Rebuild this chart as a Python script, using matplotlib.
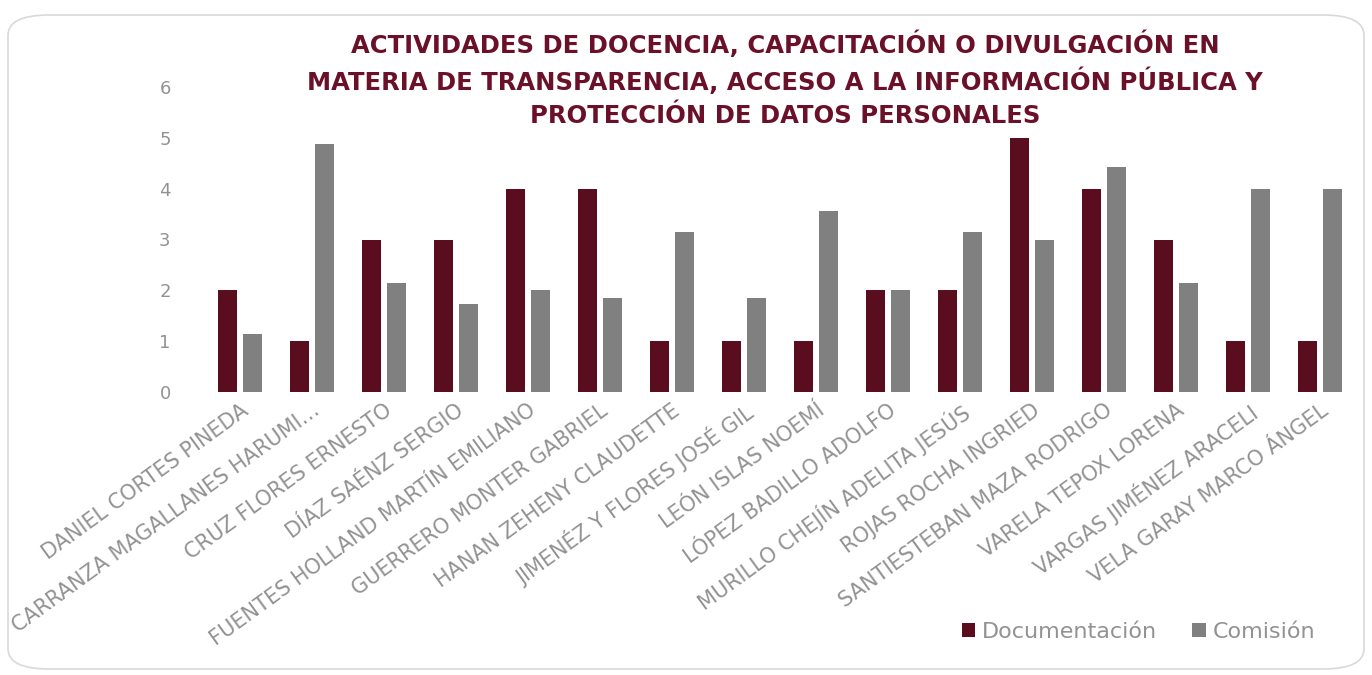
import matplotlib.pyplot as plt  # 그래프
import numpy as np
from matplotlib.patches import FancyBboxPatch

# datos del gráfico
nombres = ['DANIEL CORTES PINEDA', 'CARRANZA MAGALLANES HARUMI…', 'CRUZ FLORES ERNESTO',
           'DÍAZ SAÉNZ SERGIO', 'FUENTES HOLLAND MARTÍN EMILIANO', 'GUERRERO MONTER GABRIEL',
           'HANAN ZEHENY CLAUDETTE', 'JIMENÉZ Y FLORES JOSÉ GIL', 'LEÓN ISLAS NOEMÍ',
           'LÓPEZ BADILLO ADOLFO', 'MURILLO CHEJÍN ADELITA JESÚS', 'ROJAS ROCHA INGRIED',
           'SANTIESTEBAN MAZA RODRIGO', 'VARELA TEPOX LORENA', 'VARGAS JIMÉNEZ ARACELI',
           'VELA GARAY MARCO ÁNGEL']
documentacion = [2, 1, 3, 3, 4, 4, 1, 1, 1, 2, 2, 5, 4, 3, 1, 1]
comision = [1.15, 4.87, 2.15, 1.73, 2.0, 1.85, 3.15, 1.85, 3.57, 2.0, 3.15, 3.0, 4.42, 2.15, 4.0, 4.0]
yticks = [0, 1, 2, 3, 4, 5, 6]

titulo = ('ACTIVIDADES DE DOCENCIA, CAPACITACIÓN O DIVULGACIÓN EN\n'
          'MATERIA DE TRANSPARENCIA, ACCESO A LA INFORMACIÓN PÚBLICA Y\n'
          'PROTECCIÓN DE DATOS PERSONALES')

color_doc = '#5B0D20'
color_com = '#808080'
color_txt = '#929292'

fig = plt.figure(figsize=(13.72, 6.75), dpi=100)

# marco redondeado (detrás de todo)
marco = FancyBboxPatch((8 / 1372, 6 / 675), 1356 / 1372, 654 / 675,
                       boxstyle='round,pad=0,rounding_size=0.03',
                       transform=fig.transFigure, facecolor='white',
                       edgecolor='#D9D9D9', linewidth=1.2, zorder=-5)
fig.patches.append(marco)

ax = fig.add_axes([204 / 1372, 1 - 392 / 675, 1152 / 1372, 305 / 675])
ax.patch.set_alpha(0)

x = np.arange(len(nombres))
ancho = 0.26
ax.bar(x - 0.17, documentacion, ancho, color=color_doc, label='Documentación')
ax.bar(x + 0.17, comision, ancho, color=color_com, label='Comisión')

ax.set_xlim(-0.5, len(nombres) - 0.5)
ax.set_ylim(0, 6)
ax.set_yticks(yticks)
ax.set_yticklabels([str(v) for v in yticks], color=color_txt, fontsize=13)
ax.set_xticks(x)
ax.set_xticklabels(nombres, rotation=36, ha='right', rotation_mode='anchor',
                   color=color_txt, fontsize=15)
ax.tick_params(axis='both', length=0)
ax.tick_params(axis='y', pad=24)
ax.tick_params(axis='x', pad=6)
for s in ax.spines.values():
    s.set_visible(False)

fig.text(785 / 1372, 1 - 79 / 675, titulo, ha='center', va='center',
         fontsize=17.5, fontweight='bold', color='#6A1028', linespacing=1.45)

fig.legend(loc='center right', bbox_to_anchor=(1335 / 1372, 1 - 632 / 675),
           ncol=2, frameon=False, fontsize=16, labelcolor=color_txt,
           handlelength=0.6, handleheight=0.6, handletextpad=0.3, columnspacing=1.6)

plt.savefig('out.png', dpi=100)
plt.close()
